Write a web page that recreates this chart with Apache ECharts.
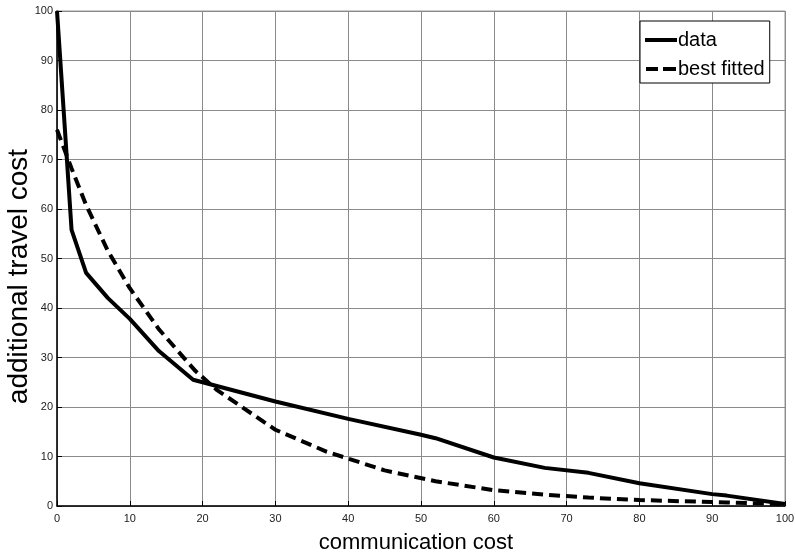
<!DOCTYPE html>
<html>
<head>
<meta charset="utf-8">
<script src="https://cdn.jsdelivr.net/npm/echarts@6/dist/echarts.min.js"></script>
<style>
html,body{margin:0;padding:0;background:#fff;}
#chart{width:795px;height:555px;}
</style>
</head>
<body>
<div id="chart"></div>
<script>
var dataX = [0, 1, 2, 4, 7, 10, 14, 18.7, 30, 40, 50, 52, 60, 67, 73, 80, 90, 92, 100];
var dataY = [100, 78, 55.8, 47.1, 42, 37.8, 31.3, 25.5, 21.1, 17.6, 14.4, 13.7, 9.8, 7.7, 6.7, 4.6, 2.4, 2.1, 0.4];

var fitX = [0, 2, 4, 7, 10, 14, 19, 22, 30, 37, 45, 52, 60, 67, 73, 80, 90, 92, 100];
var fitY = [76, 68.2, 60.8, 51.5, 44, 35.7, 27.3, 23.4, 15.4, 11, 7.2, 5, 3.2, 2.3, 1.7, 1.2, 0.8, 0.7, 0.4];

var xTicks = [0, 10, 20, 30, 40, 50, 60, 70, 80, 90, 100];
var yTicks = [0, 10, 20, 30, 40, 50, 60, 70, 80, 90, 100];

function pairs(xs, ys) { return xs.map(function (x, i) { return [x, ys[i]]; }); }

var chart = echarts.init(document.getElementById('chart'));
var axisLabelStyle = { fontFamily: 'Liberation Sans, Arial', fontSize: 11, color: '#222' };
chart.setOption({
  animation: false,
  backgroundColor: '#fff',
  grid: { left: 57, right: 10, top: 11, bottom: 49, show: true, borderColor: '#999', borderWidth: 1,
          containLabel: false, outerBoundsMode: 'none' },
  xAxis: {
    type: 'value', min: xTicks[0], max: xTicks[xTicks.length - 1], interval: 10,
    name: 'communication cost', nameLocation: 'middle', nameGap: 26, nameMoveOverlap: false,
    nameTextStyle: { fontFamily: 'Liberation Sans, Arial', fontSize: 22, color: '#000', padding: [0, 10, 0, 0] },
    axisLine: { show: true, lineStyle: { color: '#000', width: 1.5 } },
    axisTick: { show: true, inside: true, length: 5, lineStyle: { color: '#000' } },
    axisLabel: Object.assign({ margin: 7 }, axisLabelStyle),
    splitLine: { show: true, lineStyle: { color: '#8a8a8a', width: 1 } }
  },
  yAxis: {
    type: 'value', min: yTicks[0], max: yTicks[yTicks.length - 1], interval: 10,
    name: 'additional travel cost', nameLocation: 'middle', nameGap: 24, nameMoveOverlap: false,
    nameTextStyle: { fontFamily: 'Liberation Sans, Arial', fontSize: 28, color: '#000', padding: [0, 36, 0, 0] },
    axisLine: { show: true, lineStyle: { color: '#000', width: 1.5 } },
    axisTick: { show: true, inside: true, length: 5, lineStyle: { color: '#000' } },
    axisLabel: Object.assign({ margin: 4 }, axisLabelStyle),
    splitLine: { show: true, lineStyle: { color: '#8a8a8a', width: 1 } }
  },
  legend: {
    show: true, orient: 'vertical', left: 640, top: 21,
    backgroundColor: '#fff', borderColor: '#000', borderWidth: 1,
    padding: [9, 5, 4, 5], itemGap: 9, itemWidth: 32, itemHeight: 4,
    textStyle: { fontFamily: 'Liberation Sans, Arial', fontSize: 20, color: '#000', padding: [0, 0, 0, -4] },
    data: [
      { name: 'data', icon: 'rect', itemStyle: { color: '#000' } },
      { name: 'best fitted', icon: 'path://M0,0h12v4h-12z M17,0h13v4h-13z', itemStyle: { color: '#000' } }
    ]
  },
  series: [
    {
      name: 'data', type: 'line', showSymbol: false, symbol: 'none',
      data: pairs(dataX, dataY),
      lineStyle: { color: '#000', width: 4 }, itemStyle: { color: '#000' }
    },
    {
      name: 'best fitted', type: 'line', showSymbol: false, symbol: 'none',
      data: pairs(fitX, fitY),
      lineStyle: { color: '#000', width: 4, type: [11, 6] }, itemStyle: { color: '#000' }
    }
  ]
});
</script>
</body>
</html>
